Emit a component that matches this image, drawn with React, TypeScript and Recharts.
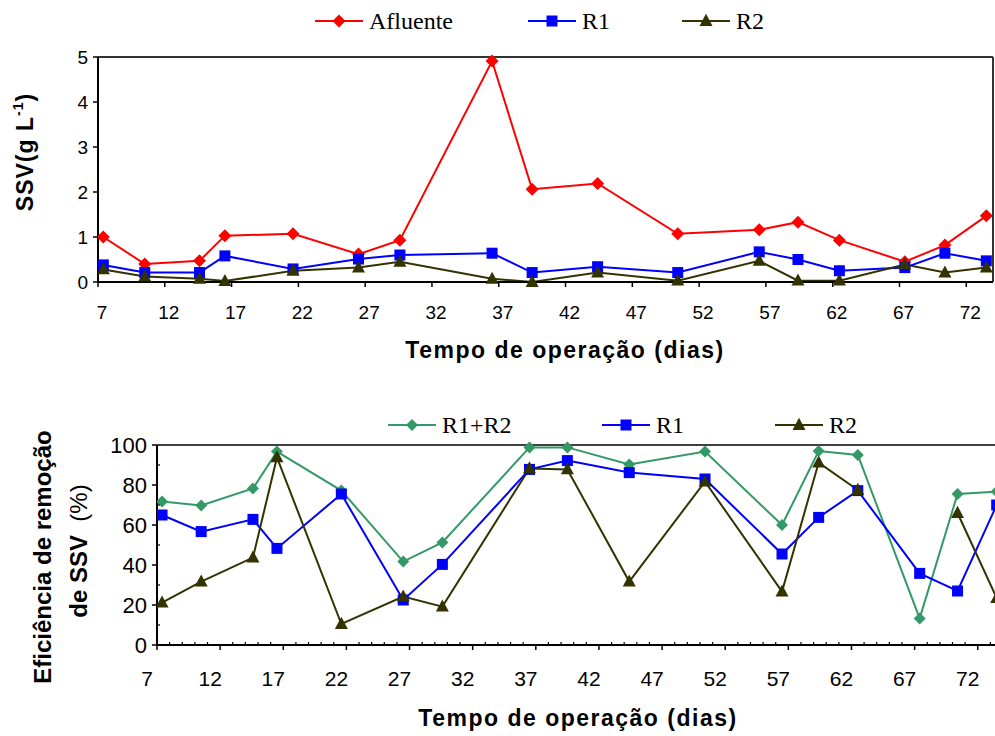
import React from 'react';
import { LineChart, Line, XAxis, YAxis, ReferenceLine, Legend } from 'recharts';

// ---------- data ----------
const days = [7.4, 10.5, 14.6, 16.5, 21.6, 26.5, 29.6, 36.5, 39.5, 44.4, 50.4, 56.5, 59.4, 62.5, 67.4, 70.4, 73.5];

const ssvAfluente = [1.0, 0.4, 0.47, 1.03, 1.07, 0.62, 0.93, 4.91, 2.06, 2.19, 1.07, 1.16, 1.33, 0.93, 0.45, 0.82, 1.47];
const ssvR1 = [0.38, 0.21, 0.21, 0.58, 0.29, 0.51, 0.6, 0.64, 0.21, 0.34, 0.21, 0.67, 0.5, 0.25, 0.32, 0.64, 0.47];
const ssvR2 = [0.28, 0.12, 0.07, 0.02, 0.25, 0.32, 0.45, 0.07, 0.0, 0.21, 0.03, 0.47, 0.03, 0.03, 0.39, 0.21, 0.32];

const effR1R2 = [71.7, 69.8, 78.3, 96.7, 77.2, 41.7, 51.3, 98.8, 98.8, 90.3, 96.7, 60, 97, 95, 13.3, 75.5, 76.7];
const effR1 = [65, 56.7, 62.8, 48.3, 75.5, 22.5, 40.3, 87.8, 92.2, 86.2, 83, 45.5, 63.8, 77.2, 35.8, 27, 70];
const effR2: (number | null)[] = [21.2, 31.7, 43.7, 93.8, 10.5, 24.2, 19.2, 88.3, 87.8, 31.7, 81.7, 26.7, 91.2, 77.5, null, 66, 23.5];

const dayTicks = [7, 12, 17, 22, 27, 32, 37, 42, 47, 52, 57, 62, 67, 72];
const dayAllTicks = Array.from({ length: 67 }, (_, i) => 7 + i); // 7..73 (major + minor)
const ssvTicks = [0, 1, 2, 3, 4, 5];
const effTicks = [0, 10, 20, 30, 40, 50, 60, 70, 80, 90, 100];
const effMajor = [0, 20, 40, 60, 80, 100];

const topData = days.map((d, i) => ({ day: d, afluente: ssvAfluente[i], r1: ssvR1[i], r2: ssvR2[i] }));
const bottomData = days.map((d, i) => ({ day: d, r1r2: effR1R2[i], r1: effR1[i], r2: effR2[i] }));

// ---------- styles ----------
const SANS = '"Liberation Sans", Arial, sans-serif';
const SERIF = '"Liberation Serif", "Times New Roman", serif';
const RED = '#FF0000';
const BLUE = '#0000FF';
const OLIVE = '#333300';
const GREEN = '#339966';

type Shape = 'diamond' | 'square' | 'triangle';

const Marker = ({ shape, cx, cy, color, size }: { shape: Shape; cx: number; cy: number; color: string; size: number }) => {
  if (shape === 'diamond') {
    return <path d={`M${cx},${cy - size}L${cx + size},${cy}L${cx},${cy + size}L${cx - size},${cy}Z`} fill={color} />;
  }
  if (shape === 'square') {
    return <rect x={cx - size} y={cy - size} width={size * 2} height={size * 2} fill={color} />;
  }
  return (
    <path
      d={`M${cx},${cy - size * 1.1}L${cx + size},${cy + size * 0.75}L${cx - size},${cy + size * 0.75}Z`}
      fill={color}
    />
  );
};

const makeDot = (shape: Shape, color: string, size: number) => (props: any) => {
  const { cx, cy, index, value } = props;
  if (cx == null || cy == null || value == null || Number.isNaN(cy)) return <g key={`e-${index}`} />;
  return <Marker key={`m-${index}`} shape={shape} cx={cx} cy={cy} color={color} size={size} />;
};

type LegendItem = { name: string; color: string; shape: Shape; x: number; size: number };

const topLegend: LegendItem[] = [
  { name: 'Afluente', color: RED, shape: 'diamond', x: 15, size: 6.5 },
  { name: 'R1', color: BLUE, shape: 'square', x: 228, size: 5.5 },
  { name: 'R2', color: OLIVE, shape: 'triangle', x: 382, size: 6.5 },
];
const bottomLegend: LegendItem[] = [
  { name: 'R1+R2', color: GREEN, shape: 'diamond', x: 8, size: 6 },
  { name: 'R1', color: BLUE, shape: 'square', x: 222, size: 5.5 },
  { name: 'R2', color: OLIVE, shape: 'triangle', x: 395, size: 6.5 },
];

const legendContent = (items: LegendItem[]) => () => (
  <svg width={500} height={30} style={{ display: 'block' }}>
    {items.map((it) => (
      <g key={it.name}>
        <line x1={it.x} x2={it.x + 48} y1={15} y2={15} stroke={it.color} strokeWidth={2} />
        <Marker shape={it.shape} cx={it.x + 24} cy={15} color={it.color} size={it.size} />
        <text x={it.x + 54} y={15} dy="0.35em" fontFamily={SERIF} fontSize={24} fill="#000">
          {it.name}
        </text>
      </g>
    ))}
  </svg>
);

const TopXTick = (p: any) => (
  <text x={p.x + 4} y={p.y} dy="0.71em" textAnchor="middle" fontSize={19} fontFamily={SANS} fill="#000">
    {p.payload.value}
  </text>
);
const TopYTick = (p: any) => (
  <text x={p.x} y={p.y} dy="0.355em" textAnchor="end" fontSize={19} fontFamily={SANS} fill="#000">
    {p.payload.value}
  </text>
);

const BottomXTick = (p: any) => {
  const v = p.payload.value;
  const major = dayTicks.includes(v);
  return (
    <g>
      {major ? (
        <line x1={p.x} x2={p.x} y1={p.y} y2={p.y + 5} stroke="#000" strokeWidth={1.5} />
      ) : (
        <line x1={p.x} x2={p.x} y1={p.y - 3} y2={p.y} stroke="#000" strokeWidth={1.2} />
      )}
      {major && (
        <text x={p.x - 10} y={p.y + 26} dy="0.71em" textAnchor="middle" fontSize={21} fontFamily={SANS} fill="#000">
          {v}
        </text>
      )}
    </g>
  );
};

const BottomYTick = (p: any) => {
  const v = p.payload.value;
  const major = effMajor.includes(v);
  return (
    <g>
      {major ? (
        <line x1={p.x - 5} x2={p.x} y1={p.y} y2={p.y} stroke="#000" strokeWidth={1.5} />
      ) : (
        <line x1={p.x} x2={p.x + 3} y1={p.y} y2={p.y} stroke="#000" strokeWidth={1.2} />
      )}
      {major && (
        <text x={p.x - 10} y={p.y} dy="0.355em" textAnchor="end" fontSize={22} fontFamily={SANS} fill="#000">
          {v}
        </text>
      )}
    </g>
  );
};

const abs = (left: number, top: number): React.CSSProperties => ({ position: 'absolute', left, top });

const centered = (x: number, y: number, rotate: boolean, extra: React.CSSProperties): React.CSSProperties => ({
  position: 'absolute',
  left: x,
  top: y,
  transform: `translate(-50%, -50%)${rotate ? ' rotate(-90deg)' : ''}`,
  whiteSpace: 'pre',
  fontFamily: SANS,
  color: '#000',
  lineHeight: 1,
  ...extra,
});

export default function App() {
  return (
    <div
      style={{
        position: 'absolute',
        left: 0,
        top: 0,
        width: 995,
        height: 736,
        overflow: 'hidden',
        background: '#fff',
      }}
    >
      {/* Top chart */}
      <div style={abs(0, 0)}>
        <LineChart width={995} height={380} data={topData} margin={{ top: 57, right: 2, left: 38, bottom: 68 }}>
          <XAxis
            dataKey="day"
            type="number"
            domain={[7, 74]}
            ticks={dayTicks}
            interval={0}
            allowDataOverflow
            height={30}
            axisLine={{ stroke: '#000', strokeWidth: 2 }}
            tickLine={{ stroke: '#000', strokeWidth: 1.5 }}
            tickSize={5}
            tickMargin={19}
            tick={TopXTick}
          />
          <YAxis
            type="number"
            domain={[0, 5]}
            ticks={ssvTicks}
            interval={0}
            width={60}
            axisLine={{ stroke: '#000', strokeWidth: 2 }}
            tickLine={{ stroke: '#000', strokeWidth: 1.5 }}
            tickSize={5}
            tickMargin={5}
            tick={TopYTick}
          />
          <ReferenceLine y={5} stroke="#333" strokeWidth={2} />
          <ReferenceLine x={74} stroke="#333" strokeWidth={2} />
          <Legend
            verticalAlign="middle"
            align="center"
            content={legendContent(topLegend)}
            wrapperStyle={{ top: 6, left: 300, width: 500, height: 30 }}
          />
          <Line
            dataKey="afluente"
            stroke={RED}
            strokeWidth={2}
            dot={makeDot('diamond', RED, 6.5)}
            activeDot={false}
            isAnimationActive={false}
          />
          <Line
            dataKey="r1"
            stroke={BLUE}
            strokeWidth={2}
            dot={makeDot('square', BLUE, 5.5)}
            activeDot={false}
            isAnimationActive={false}
          />
          <Line
            dataKey="r2"
            stroke={OLIVE}
            strokeWidth={2}
            dot={makeDot('triangle', OLIVE, 6.5)}
            activeDot={false}
            isAnimationActive={false}
          />
        </LineChart>
      </div>

      {/* Bottom chart */}
      <div style={abs(0, 380)}>
        <LineChart width={1010} height={356} data={bottomData} margin={{ top: 65, right: 7, left: 97, bottom: 61 }}>
          <XAxis
            dataKey="day"
            type="number"
            domain={[7, 74]}
            ticks={dayAllTicks}
            interval={0}
            allowDataOverflow
            height={30}
            axisLine={{ stroke: '#000', strokeWidth: 2 }}
            tickLine={false}
            tickSize={0}
            tickMargin={0}
            tick={BottomXTick}
          />
          <YAxis
            type="number"
            domain={[0, 100]}
            ticks={effTicks}
            interval={0}
            width={60}
            axisLine={{ stroke: '#000', strokeWidth: 2 }}
            tickLine={false}
            tickSize={0}
            tickMargin={0}
            tick={BottomYTick}
          />
          <ReferenceLine y={100} stroke="#000" strokeWidth={1.5} />
          <Legend
            verticalAlign="middle"
            align="center"
            content={legendContent(bottomLegend)}
            wrapperStyle={{ top: 30, left: 380, width: 500, height: 30 }}
          />
          <Line
            dataKey="r1r2"
            stroke={GREEN}
            strokeWidth={2}
            dot={makeDot('diamond', GREEN, 6)}
            activeDot={false}
            isAnimationActive={false}
          />
          <Line
            dataKey="r1"
            stroke={BLUE}
            strokeWidth={2}
            dot={makeDot('square', BLUE, 5.5)}
            activeDot={false}
            isAnimationActive={false}
          />
          <Line
            dataKey="r2"
            stroke={OLIVE}
            strokeWidth={2}
            connectNulls={false}
            dot={makeDot('triangle', OLIVE, 6.5)}
            activeDot={false}
            isAnimationActive={false}
          />
        </LineChart>
      </div>

      {/* Axis titles */}
      <div style={centered(25, 152, true, { fontWeight: 'bold', fontSize: 23, letterSpacing: 1 })}>
        SSV(g L<sup style={{ fontSize: 14, verticalAlign: 'top', position: 'relative', top: -3 }}>-1</sup>)
      </div>
      <div style={centered(565, 350, false, { fontWeight: 'bold', fontSize: 23, letterSpacing: 1.5 })}>
        Tempo de operação (dias)
      </div>
      <div style={centered(43, 557, true, { fontWeight: 'bold', fontSize: 24 })}>Eficiência de remoção</div>
      <div style={centered(79, 551, true, { fontWeight: 'bold', fontSize: 24 })}>
        de SSV  <span style={{ fontWeight: 'normal' }}>(%)</span>
      </div>
      <div style={centered(578, 718, false, { fontWeight: 'bold', fontSize: 23, letterSpacing: 1.5 })}>
        Tempo de operação (dias)
      </div>
    </div>
  );
}
